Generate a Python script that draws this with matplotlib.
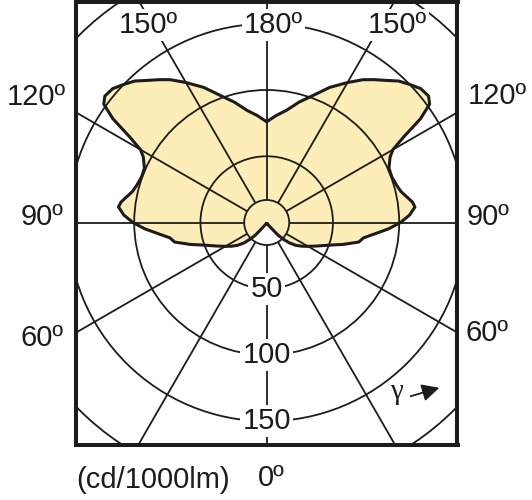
import numpy as np
import matplotlib
matplotlib.use('Agg')
import matplotlib.pyplot as plt
from matplotlib.patches import Circle, Polygon

# luminous intensity (cd/1000lm) against gamma angle, one half of the symmetric curve
gamma = [0, 10, 20, 30, 36, 40, 42, 45, 48, 52, 56, 60, 65, 70, 74, 78, 81, 84, 87, 90,
         93, 96, 98, 100, 103, 106, 110, 114, 118, 120, 122, 124, 126, 128, 131, 134,
         137, 140, 143, 146, 150, 155, 160, 165, 170, 175, 180]
intensity = [1, 1, 1, 1.5, 3, 7, 13, 18, 23, 28, 32, 36, 42, 50, 60, 71, 74, 82, 92, 101,
             108, 112.5, 111, 108, 104, 102, 100.5, 101, 105.5, 110, 122, 140, 152, 155, 154, 150,
             146, 140, 135, 130, 122, 112.5, 102, 94, 86, 81, 76]

ring_values = [50, 100, 150, 200]
ring_labels = ['50', '100', '150']
spoke_angles = [0, 30, 60, 90, 120, 150, 180]
inner_ring = 17

# pixel geometry of the reference picture
W, H = 532, 500
CX, CY = 266.7, 222.5
SCALE = 1.325  # px per cd/1000lm

LINE = '#1c1c1c'
FILL = '#fdedb7'


def px(x, y):
    return (x - CX) / SCALE, (CY - y) / SCALE


def main():
    plt.rcParams['font.family'] = ['Liberation Sans', 'DejaVu Sans']
    fig = plt.figure(figsize=(W / 100, H / 100), dpi=100)
    left, right, top, bottom = 76, 457.5, 2, 444.5
    ax = fig.add_axes([left / W, (H - bottom) / H, (right - left) / W, (bottom - top) / H])
    x0, y1 = px(left, top)
    x1, y0 = px(right, bottom)
    ax.set_xlim(x0, x1)
    ax.set_ylim(y0, y1)
    ax.set_xticks([])
    ax.set_yticks([])
    for s in ax.spines.values():
        s.set_linewidth(2.9)
        s.set_color(LINE)
        s.set_zorder(10)

    g = np.radians(np.array(gamma))
    r = np.array(intensity)
    xr = r * np.sin(g)
    yr = -r * np.cos(g)
    xs = np.concatenate([xr, -xr[::-1]])
    ys = np.concatenate([yr, yr[::-1]])
    ax.add_patch(Polygon(np.column_stack([xs, ys]), closed=True, facecolor=FILL,
                         edgecolor='none', zorder=1))

    # grid rings and spokes
    for v in ring_values + [inner_ring]:
        ax.add_patch(Circle((0, 0), v, fill=False, lw=1.3, ec=LINE, zorder=2))
    for a in spoke_angles:
        t = np.radians(a)
        for side in ([1] if a in (0, 180) else [1, -1]):
            ax.plot([side * inner_ring * np.sin(t), side * 300 * np.sin(t)],
                    [-inner_ring * np.cos(t), -300 * np.cos(t)],
                    color=LINE, lw=1.3, zorder=2, solid_capstyle='butt')

    ax.plot(np.append(xs, xs[0]), np.append(ys, ys[0]), color=LINE, lw=2.2, zorder=3,
            solid_joinstyle='round')

    box = dict(facecolor='white', edgecolor='none', pad=1.5)
    fs = 21
    for v, lab in zip(ring_values, ring_labels):
        ax.text(0, -v, lab, ha='center', va='center', fontsize=fs, color=LINE,
                bbox=box, zorder=5)

    # angle labels
    for x, y, lab in [(148, 25, '150º'), (273.5, 25, '180º'), (397.5, 25, '150º')]:
        ax.text(*px(x, y), lab, ha='center', va='center', fontsize=fs, color=LINE,
                bbox=box, zorder=5)
    for x, y, lab in [(36, 97, '120º'), (497, 96, '120º'), (42, 217, '90º'),
                      (488, 217, '90º'), (42, 338, '60º'), (487, 333, '60º'),
                      (271, 478, '0º')]:
        ax.text(*px(x, y), lab, ha='center', va='center', fontsize=fs, color=LINE)
    ax.text(*px(76, 480), '(cd/1000lm)', ha='left', va='center', fontsize=fs, color=LINE)

    # gamma direction arrow
    ax.text(*px(396, 392), 'γ', ha='center', va='center', fontsize=fs, color=LINE,
            family=['Liberation Serif', 'DejaVu Serif'])
    ax.annotate('', xy=px(442, 387), xytext=px(408, 397),
                arrowprops=dict(arrowstyle='-|>', lw=1.3, color=LINE, mutation_scale=26))

    fig.savefig('out.png', dpi=100)


if __name__ == '__main__':
    main()
